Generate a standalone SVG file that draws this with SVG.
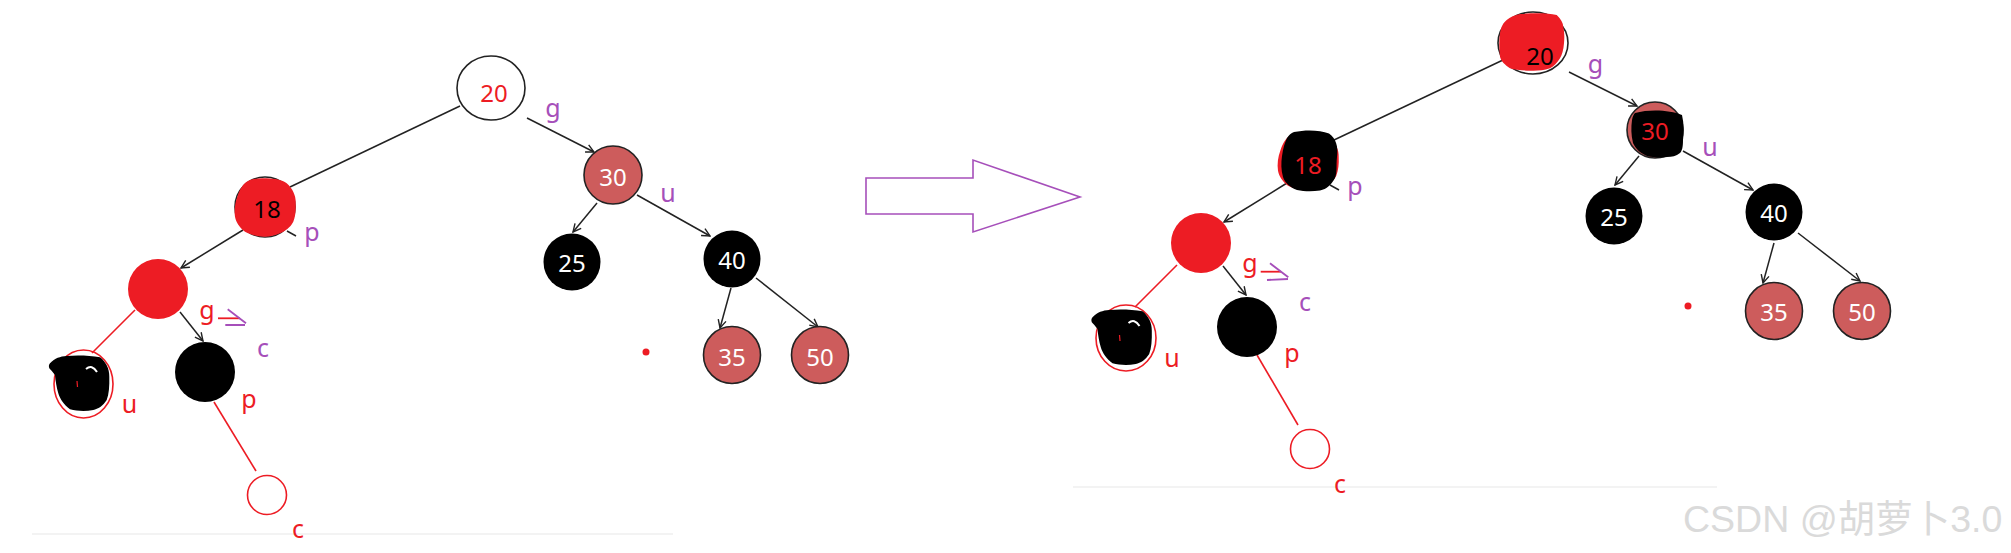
<svg xmlns="http://www.w3.org/2000/svg" width="2011" height="553" viewBox="0 0 2011 553">
<style>
.num{font-family:"Noto Sans","Open Sans",sans-serif;font-size:24px;text-anchor:middle}
.lbl{font-family:"Noto Sans","Open Sans",sans-serif;font-size:25px;text-anchor:middle}
.pur{fill:#A64FBA}
.red{fill:#ED1C24}
.wht{fill:#ffffff}
.blk{fill:#000000}
.edge{stroke:#222;stroke-width:1.5;fill:none}
.redge{stroke:#ED1C24;stroke-width:1.6;fill:none}
.ir{fill:#CD5C5C;stroke:#222;stroke-width:1.6}
.bn{fill:#000}
.rn{fill:#ED1C24}
.ring{fill:none;stroke:#ED1C24;stroke-width:1.6}
.wm{font-family:"Liberation Sans","Noto Sans CJK SC",sans-serif;font-size:37.5px;fill:#dadada}
</style>
<defs>
<marker id="arr" viewBox="0 0 10 10" refX="9" refY="5" markerWidth="10" markerHeight="10" markerUnits="userSpaceOnUse" orient="auto">
<path d="M1,1 L9,5 L1,9" fill="none" stroke="#222" stroke-width="1.4"/>
</marker>
<path id="ublob" d="M50,363.3 C55,358 60,356.5 66.7,356 C77,355 90,355.5 100,357.3 C106,362 109.5,369 109.3,376.7 C109.5,386 109,394 106.7,400 C103,406 98,409 93.3,410 C85,411.5 77,411 70,409.3 C64,405 60,399 58.3,393.3 C56.5,387 55.5,381 55,375 C53,372 50.5,370 49.3,368.3 C48.5,366 49,364.5 50,363.3 Z"/>
<path id="blob18" d="M246.7,181.7 C253,178 260,178 266.7,178.3 C275,178.5 282,180 286.7,183.3 C293,189 296,196 295.7,203.3 C296,210 295.5,216 293.3,221.7 C290,228 285,231 280,233.3 C274,236 269,237 263.3,236.7 C256,236 250,234.5 245,231.7 C239,227 236,222 235,216.7 C234,210 235,203 237.3,196.7 C239.5,190 242,185 246.7,181.7 Z"/>
</defs>
<rect width="2011" height="553" fill="#ffffff"/>

<g id="baselines">
<line x1="32" y1="534" x2="673" y2="534" stroke="#e8e8e8" stroke-width="1.2"/>
<line x1="1073" y1="487" x2="1717" y2="487" stroke="#e8e8e8" stroke-width="1.2"/>
</g>

<g id="connectors">
<line class="edge" x1="460" y1="106" x2="290" y2="187"/>
<line class="edge" x1="527" y1="118" x2="594" y2="152" marker-end="url(#arr)"/>
<line class="edge" x1="243" y1="230" x2="181" y2="268" marker-end="url(#arr)"/>
<line class="edge" x1="180" y1="312" x2="203" y2="341" marker-end="url(#arr)"/>
<line class="redge" x1="135" y1="310" x2="92" y2="353"/>
<line class="redge" x1="214" y1="402" x2="256" y2="471"/>
<line class="edge" x1="597" y1="203" x2="573" y2="232" marker-end="url(#arr)"/>
<line class="edge" x1="637" y1="195" x2="710" y2="236" marker-end="url(#arr)"/>
<line class="edge" x1="731" y1="288" x2="720" y2="328" marker-end="url(#arr)"/>
<line class="edge" x1="756" y1="278" x2="818" y2="327" marker-end="url(#arr)"/>
<line class="edge" x1="1503" y1="60" x2="1334" y2="140"/>
<line class="edge" x1="1569" y1="72" x2="1637" y2="106" marker-end="url(#arr)"/>
<line class="edge" x1="1287" y1="183" x2="1224" y2="222" marker-end="url(#arr)"/>
<line class="edge" x1="1223" y1="266" x2="1246" y2="295" marker-end="url(#arr)"/>
<line class="redge" x1="1177" y1="265" x2="1135" y2="307"/>
<line class="redge" x1="1257" y1="355" x2="1298" y2="425"/>
<line class="edge" x1="1639" y1="156" x2="1615" y2="185" marker-end="url(#arr)"/>
<line class="edge" x1="1683" y1="151" x2="1753" y2="190" marker-end="url(#arr)"/>
<line class="edge" x1="1774" y1="243" x2="1763" y2="283" marker-end="url(#arr)"/>
<line class="edge" x1="1798" y1="233" x2="1860" y2="281" marker-end="url(#arr)"/>
</g>

<g id="L20">
<ellipse cx="491" cy="88" rx="34" ry="32" fill="#fff" stroke="#222" stroke-width="1.6"/>
<text class="num red" x="494" y="101.5">20</text>
</g>
<g id="L18">
<circle cx="265" cy="207" r="30" fill="none" stroke="#222" stroke-width="1.6"/>
<use href="#blob18" fill="#ED1C24"/>
<line x1="287" y1="231" x2="296" y2="236" stroke="#222" stroke-width="1.5"/>
<text class="num blk" x="267" y="218">18</text>
</g>
<g id="L30">
<circle class="ir" cx="613" cy="175" r="29"/>
<text class="num wht" x="613" y="186">30</text>
</g>
<g id="L25">
<circle class="bn" cx="572" cy="262" r="28.5"/>
<text class="num wht" x="572" y="272">25</text>
</g>
<g id="L40">
<circle class="bn" cx="732" cy="259" r="28.5"/>
<text class="num wht" x="732" y="269">40</text>
</g>
<g id="L35">
<circle class="ir" cx="732" cy="355" r="28.5"/>
<text class="num wht" x="732" y="366">35</text>
</g>
<g id="L50">
<circle class="ir" cx="820" cy="355" r="28.5"/>
<text class="num wht" x="820" y="366">50</text>
</g>
<g id="Lred">
<circle class="rn" cx="158" cy="289" r="30"/>
</g>
<g id="Lblack">
<circle class="bn" cx="205" cy="372" r="30"/>
</g>
<g id="Lu">
<ellipse class="ring" cx="83.5" cy="384" rx="29.5" ry="34"/>
<use href="#ublob" fill="#000"/>
<path d="M86,369 Q92,364 97,372" fill="none" stroke="#fff" stroke-width="2"/>
<line x1="77" y1="381" x2="77.5" y2="387" stroke="#ED1C24" stroke-width="1.2"/>
</g>
<g id="Lc">
<circle class="ring" cx="267" cy="495" r="19.5" fill="#fff"/>
</g>
<circle id="Ldot" cx="646" cy="352" r="3.5" fill="#ED1C24"/>

<g id="Llabels">
<text class="lbl pur" x="553" y="116.5">g</text>
<text class="lbl pur" x="668" y="202">u</text>
<text class="lbl pur" x="312" y="240.5">p</text>
<text class="lbl red" x="207" y="318.5">g</text>
<line x1="218" y1="318.3" x2="240" y2="318.3" stroke="#ED1C24" stroke-width="1.8"/>
<path d="M227.7,309.3 L246,323.3 M225.3,325 L245,325" fill="none" stroke="#A64FBA" stroke-width="1.8"/>
<text class="lbl pur" x="263" y="357">c</text>
<text class="lbl red" x="249" y="407.5">p</text>
<text class="lbl red" x="129.5" y="413">u</text>
<text class="lbl red" x="298" y="538">c</text>
</g>

<g id="bigArrow">
<polygon points="866,178 973,178 973,160 1080,197 973,232 973,214 866,214" fill="#fff" stroke="#A64FBA" stroke-width="1.6"/>
</g>

<g id="R20">
<ellipse cx="1533" cy="43" rx="35" ry="31" fill="#fff" stroke="#222" stroke-width="1.6"/>
<path d="M1520,14 C1535,13 1548,13 1556.7,15 C1561,19 1563,23 1563.3,26.7 C1564.5,33 1564.5,38 1564,43.3 C1563.5,50 1562,55 1560,58.3 C1557,63 1554,66 1550,68.3 C1543,70.5 1537,71 1530,70.7 C1522,70.5 1515,70 1510,68.3 C1505,65 1501,61 1500,56.7 C1499,48 1499,40 1500,33.3 C1501,27 1503,23 1506.7,20 C1510,17 1515,15 1520,14 Z" fill="#ED1C24"/>
<text class="num blk" x="1540" y="65">20</text>
</g>
<g id="R18">
<use href="#blob18" fill="#ED1C24" transform="translate(1043,-46)"/>
<path d="M1294,132 C1306,129.5 1320,130 1329,133.5 C1336,138 1338.5,147 1337,157 C1336,166 1337.5,172 1335,178 C1331,185 1327,189 1320,190.5 C1312,191.8 1304,191.5 1297,190 C1290,187.5 1285,183 1283,177 C1281,170 1281,163 1282,156 C1283,148 1285,142 1287,138 C1289,135 1291,133 1294,132 Z" fill="#000"/>
<line x1="1330" y1="185" x2="1339" y2="190" stroke="#222" stroke-width="1.5"/>
<text class="num red" x="1308" y="174">18</text>
</g>
<g id="R30">
<circle class="ir" cx="1655" cy="130" r="28"/>
<path d="M1635,113 C1650,109 1670,110 1682,115 C1684,124 1684,132 1683,140 C1683,147 1682,151 1680,153 C1676,156 1672,157 1667,157 C1660,158 1653,157.5 1647,156 C1640,153 1636,149 1633,143 C1631,135 1631,127 1632,120 C1632.5,117 1633.5,114.5 1635,113 Z" fill="#000"/>
<text class="num red" x="1655" y="140">30</text>
</g>
<g id="R25">
<circle class="bn" cx="1614" cy="216" r="28.5"/>
<text class="num wht" x="1614" y="226">25</text>
</g>
<g id="R40">
<circle class="bn" cx="1774" cy="212" r="28.5"/>
<text class="num wht" x="1774" y="222">40</text>
</g>
<g id="R35">
<circle class="ir" cx="1774" cy="311" r="28.5"/>
<text class="num wht" x="1774" y="321">35</text>
</g>
<g id="R50">
<circle class="ir" cx="1862" cy="311" r="28.5"/>
<text class="num wht" x="1862" y="321">50</text>
</g>
<g id="Rred">
<circle class="rn" cx="1201" cy="243" r="30"/>
</g>
<g id="Rblack">
<circle class="bn" cx="1247" cy="327" r="30"/>
</g>
<g id="Ru">
<ellipse class="ring" cx="1126" cy="338" rx="30" ry="33"/>
<g transform="translate(1042.5,-46)">
<use href="#ublob" fill="#000"/>
<path d="M86,369 Q92,364 97,372" fill="none" stroke="#fff" stroke-width="2"/>
<line x1="77" y1="381" x2="77.5" y2="387" stroke="#ED1C24" stroke-width="1.2"/>
</g>
</g>
<g id="Rc">
<circle class="ring" cx="1310" cy="449" r="19.5" fill="#fff"/>
</g>
<circle id="Rdot" cx="1688" cy="306" r="3.5" fill="#ED1C24"/>

<g id="Rlabels">
<text class="lbl pur" x="1595.5" y="72.5">g</text>
<text class="lbl pur" x="1710" y="155.5">u</text>
<text class="lbl pur" x="1355" y="194.5">p</text>
<text class="lbl red" x="1250" y="272">g</text>
<line x1="1260.7" y1="271.7" x2="1281" y2="271.7" stroke="#ED1C24" stroke-width="1.8"/>
<path d="M1270,263.3 L1288.3,277.3 M1267,280 L1288,279" fill="none" stroke="#A64FBA" stroke-width="1.8"/>
<text class="lbl pur" x="1305" y="311">c</text>
<text class="lbl red" x="1292" y="362">p</text>
<text class="lbl red" x="1172" y="367">u</text>
<text class="lbl red" x="1340" y="493">c</text>
</g>

<text class="wm" x="1683" y="532">CSDN @胡萝卜3.0</text>
</svg>
